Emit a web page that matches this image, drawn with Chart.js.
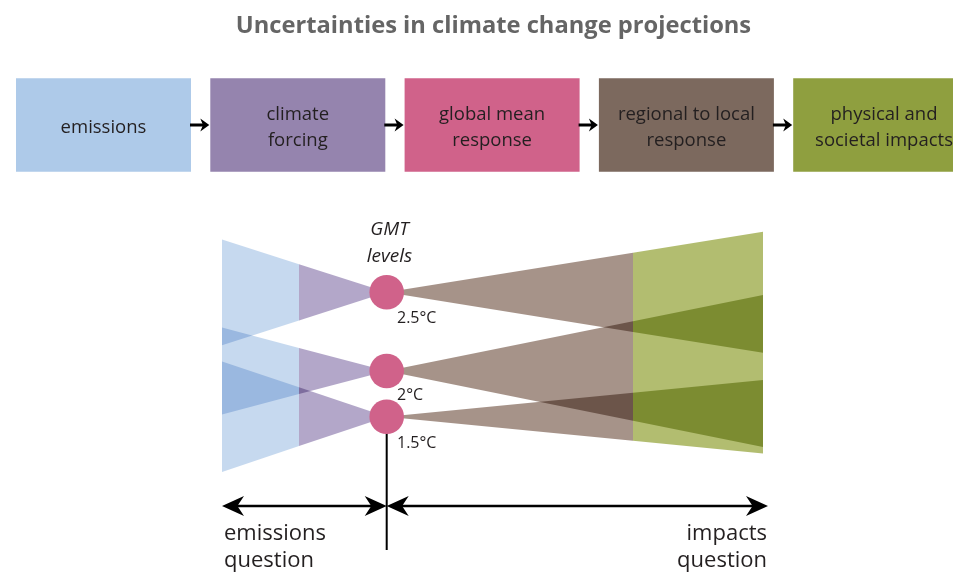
<!DOCTYPE html>
<html>
<head>
<meta charset="utf-8">
<script src="https://cdn.jsdelivr.net/npm/chart.js@4.4.1/dist/chart.umd.min.js"></script>
<style>
  html, body { margin: 0; padding: 0; background: #fff; }
  canvas { display: block; }
</style>
</head>
<body>
<canvas id="diagram" width="953" height="573"></canvas>
<script>
// --- diagram content ---
const titleText = 'Uncertainties in climate change projections';
const stageNames = [
    ['emissions'],
    ['climate', 'forcing'],
    ['global mean', 'response'],
    ['regional to local', 'response'],
    ['physical and', 'societal impacts']
];
const gmtLabels = ['2.5°C', '2°C', '1.5°C'];
const gmtY = [292.3, 371, 416.7];            // warming levels, diagram units
const emissionsSpread = [52.9, 43.4, 55.2];  // half-width of each funnel at the emissions end
const impactsSpread = [60.5, 76, 36.7];      // half-width of each funnel at the impacts end
const questionLabels = [['emissions', 'question'], ['impacts', 'question']];

// --- layout and style ---
const W = 953, H = 573;
const FONT = "'Open Sans', 'DejaVu Sans', sans-serif";
const TEXT = '#231f20';
const stageColors = ['#aecae9', '#9584ae', '#d0628a', '#7c695e', '#8f9f3f'];
const funnelColors = ['#c6d9ef', '#b3a7c9', '#a69389', '#b2bd70'];
const markerColor = '#d0628a';

const boxLeft0 = 16, boxStep = 194.3, boxWidth = 175, boxTop = 78.3, boxBottom = 171.7;
const boxMid = (boxTop + boxBottom) / 2;
const xEmis = 222, xForce = 299, xGmt = 386.7, xImpact = 633, xEnd = 763;
const lineBottom = 550, arrowY = 506, arrowLeft = 222, arrowRight = 768;

function poly(points, color) {
    return {
        data: points.map(([x, y]) => ({x, y})),
        showLine: true,
        fill: 'shape',
        backgroundColor: color,
        borderColor: 'rgba(0,0,0,0)',
        borderWidth: 0,
        pointRadius: 0,
        tension: 0
    };
}

function segment(x0, x1, y, width) {
    return {
        data: [{x: x0, y}, {x: x1, y}],
        showLine: true,
        fill: false,
        borderColor: '#000',
        borderWidth: width,
        pointRadius: 0
    };
}

// arrow head with a swept-back notch; dir = 1 points right, -1 points left
function head(tip, y, dir, len, half) {
    return poly([
        [tip, y],
        [tip - dir * len, y - half],
        [tip - dir * len * 0.7, y],
        [tip - dir * len, y + half]
    ], '#000');
}

function yAt(x, x0, y0, x1, y1) {
    return y0 + (y1 - y0) * (x - x0) / (x1 - x0);
}

const datasets = [];

// process boxes and the little arrows between them
stageNames.forEach((name, i) => {
    const l = boxLeft0 + i * boxStep;
    datasets.push(poly([[l, boxTop], [l + boxWidth, boxTop], [l + boxWidth, boxBottom], [l, boxBottom]], stageColors[i]));
    if (i < stageNames.length - 1) {
        const x0 = l + boxWidth - 1;
        const x1 = boxLeft0 + (i + 1) * boxStep - 1;
        datasets.push(segment(x0, x1 - 5, boxMid, 3));
        datasets.push(head(x1, boxMid, 1, 9, 6.5));
    }
});

// uncertainty funnels on each side of the warming levels
gmtY.forEach((yc, i) => {
    const he = emissionsSpread[i];
    const hi = impactsSpread[i];
    const topF = yAt(xForce, xEmis, yc - he, xGmt, yc);
    const botF = yAt(xForce, xEmis, yc + he, xGmt, yc);
    datasets.push(poly([[xEmis, yc - he], [xForce, topF], [xForce, botF], [xEmis, yc + he]], funnelColors[0]));
    datasets.push(poly([[xForce, topF], [xGmt, yc], [xForce, botF]], funnelColors[1]));
    const topI = yAt(xImpact, xGmt, yc, xEnd, yc - hi);
    const botI = yAt(xImpact, xGmt, yc, xEnd, yc + hi);
    datasets.push(poly([[xGmt, yc], [xImpact, topI], [xImpact, botI]], funnelColors[2]));
    datasets.push(poly([[xImpact, topI], [xEnd, yc - hi], [xEnd, yc + hi], [xImpact, botI]], funnelColors[3]));
});

// double arrows at the bottom
datasets.push(segment(arrowLeft + 12, xGmt - 12, arrowY, 2.5));
datasets.push(segment(xGmt + 12, arrowRight - 12, arrowY, 2.5));
datasets.push(head(arrowLeft, arrowY, -1, 22, 10));
datasets.push(head(xGmt, arrowY, 1, 22, 10));
datasets.push(head(xGmt, arrowY, -1, 22, 10));
datasets.push(head(arrowRight, arrowY, 1, 22, 10));

// vertical divider and the warming level markers
datasets.push(Object.assign(segment(xGmt, xGmt, 0, 2), {
    data: [{x: xGmt, y: gmtY[gmtY.length - 1]}, {x: xGmt, y: lineBottom}],
    order: -1
}));
datasets.push({
    data: gmtY.map(y => ({x: xGmt, y})),
    showLine: false,
    pointRadius: 17.3,
    pointHoverRadius: 17.3,
    pointBackgroundColor: markerColor,
    pointBorderColor: 'rgba(0,0,0,0)',
    pointBorderWidth: 0,
    order: -2,
    isMarker: true
});

const blendPlugin = {
    id: 'blend',
    beforeDraw(chart) {
        const c = chart.ctx;
        c.save();
        c.fillStyle = '#fff';
        c.fillRect(0, 0, chart.width, chart.height);
        c.restore();
    },
    beforeDatasetsDraw(chart) {
        chart.ctx.globalCompositeOperation = 'multiply';
    },
    beforeDatasetDraw(chart, args) {
        if (chart.data.datasets[args.index].isMarker) {
            chart.ctx.globalCompositeOperation = 'source-over';
        }
    },
    afterDatasetsDraw(chart) {
        chart.ctx.globalCompositeOperation = 'source-over';
    }
};

const textPlugin = {
    id: 'labels',
    afterDraw(chart) {
        const c = chart.ctx;
        const px = v => chart.scales.x.getPixelForValue(v);
        const py = v => chart.scales.y.getPixelForValue(v);
        c.save();
        c.textBaseline = 'alphabetic';

        // title, fitted to the reference width
        c.fillStyle = '#656565';
        c.font = 'bold 20px ' + FONT;
        const tw = c.measureText(titleText).width;
        const ts = 20 * 515 / tw;
        c.font = 'bold ' + ts.toFixed(1) + 'px ' + FONT;
        c.textAlign = 'center';
        c.fillText(titleText, px(493.5), py(33));

        // box labels
        c.fillStyle = TEXT;
        c.font = '18.5px ' + FONT;
        stageNames.forEach((lines, i) => {
            const cx = i === stageNames.length - 1 ? 884 : boxLeft0 + i * boxStep + boxWidth / 2;
            const base = lines.length === 1 ? [133] : [120, 146];
            lines.forEach((t, k) => c.fillText(t, px(cx), py(base[k])));
        });

        // GMT levels
        c.font = 'italic 19px ' + FONT;
        c.fillText('GMT', px(389.5), py(235));
        c.fillText('levels', px(389.5), py(262));

        // warming level labels
        c.font = '16px ' + FONT;
        c.textAlign = 'left';
        const base = [323.3, 400, 448];
        gmtLabels.forEach((t, i) => c.fillText(t, px(397), py(base[i])));

        // question labels
        c.font = '22px ' + FONT;
        c.textAlign = 'left';
        c.fillText(questionLabels[0][0], px(224), py(540));
        c.fillText(questionLabels[0][1], px(224), py(567));
        c.textAlign = 'right';
        c.fillText(questionLabels[1][0], px(767), py(540));
        c.fillText(questionLabels[1][1], px(767), py(567));
        c.restore();
    }
};

new Chart(document.getElementById('diagram'), {
    type: 'line',
    data: { datasets },
    options: {
        responsive: false,
        animation: false,
        devicePixelRatio: 1,
        events: [],
        layout: { padding: 0, autoPadding: false },
        scales: {
            x: { type: 'linear', min: 0, max: W, display: false },
            y: { type: 'linear', min: 0, max: H, reverse: true, display: false }
        },
        plugins: {
            legend: { display: false },
            tooltip: { enabled: false },
            filler: { propagate: false }
        }
    },
    plugins: [blendPlugin, textPlugin]
});
</script>
</body>
</html>
